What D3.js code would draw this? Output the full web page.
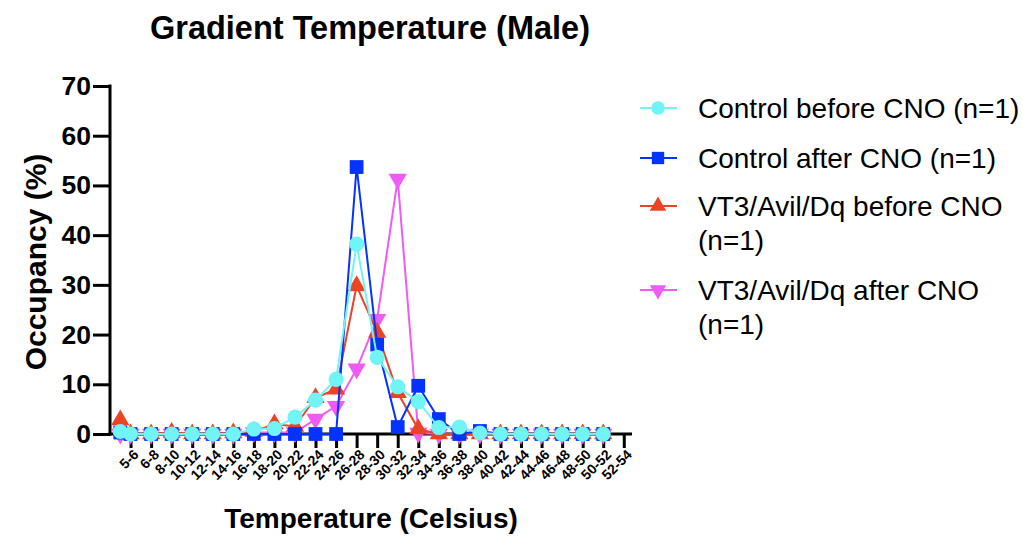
<!DOCTYPE html>
<html>
<head>
<meta charset="utf-8">
<script src="https://cdn.jsdelivr.net/npm/d3@7"></script>
<style>
  html, body { margin: 0; padding: 0; background: #fff; }
  svg { display: block; font-family: "Liberation Sans", Arial, Helvetica, sans-serif; }
</style>
</head>
<body>
<svg id="chart" width="1023" height="536"></svg>
<script>
// Temperature bins (tick labels along the x axis)
const binLabels = ["5-6","6-8","8-10","10-12","12-14","14-16","16-18","18-20","20-22","22-24",
  "24-26","26-28","28-30","30-32","32-34","34-36","36-38","38-40","40-42","42-44",
  "44-46","46-48","48-50","50-52","52-54"];

// Occupancy (%) per point; the first value sits half a bin before the first tick
const controlBefore = [0.5, 0, 0, 0, 0, 0, 0, 1.0, 1.1, 3.4, 6.8, 11.0, 38.2, 15.4, 9.5, 6.5, 1.3, 1.4, 0.2, 0, 0, 0, 0, 0, 0];
const controlAfter  = [0.3, 0, 0, 0, 0, 0, 0, 0, 0, 0, 0, 0, 53.7, 18.0, 1.4, 9.7, 3.0, 0, 0.6, 0, 0, 0, 0, 0, 0];
const vt3Before     = [2.8, 0, 0, 0.3, 0, 0, 0.2, 0.5, 2.0, 1.5, 7.3, 9.0, 29.8, 20.4, 8.3, 1.0, 0, 0, 0, 0, 0, 0, 0, 0, 0];
const vt3After      = [0, 0, 0, 0, 0, 0, 0, 0.3, 0.3, 0.3, 3.0, 5.6, 13.1, 23.1, 51.3, 0.2, 0, 0, 0, 0, 0, 0, 0, 0, 0];

const yTicks = [0, 10, 20, 30, 40, 50, 60, 70];

const seriesNames = ["Control before CNO (n=1)", "Control after CNO (n=1)",
  "VT3/Avil/Dq before CNO (n=1)", "VT3/Avil/Dq after CNO (n=1)"];

const series = [
  { name: seriesNames[0], values: controlBefore, color: "#70F4F6", symbol: d3.symbolCircle,   size: 180, rotate: 0 },
  { name: seriesNames[1], values: controlAfter,  color: "#0432FF", symbol: d3.symbolSquare,   size: 190, rotate: 0 },
  { name: seriesNames[2], values: vt3Before,     color: "#EC4325", symbol: d3.symbolTriangle, size: 145, rotate: 0 },
  { name: seriesNames[3], values: vt3After,      color: "#EF5BF4", symbol: d3.symbolTriangle, size: 145, rotate: 180 }
];

const svg = d3.select("#chart");

// Position of each point along the bin index axis: lead point at -0.5, then one per tick
const pointIndex = i => i === 0 ? -0.5 : i - 1;

const x = d3.scaleLinear().domain([-1, 24.4]).range([110, 632]);
const y = d3.scaleLinear().domain([0, 70]).range([434, 86]);

// Title
svg.append("text")
  .attr("x", 370).attr("y", 39)
  .attr("text-anchor", "middle")
  .attr("font-size", 32.5).attr("font-weight", "bold")
  .text("Gradient Temperature (Male)");

// Y axis
const yAxis = svg.append("g")
  .attr("transform", `translate(${x(-1)},0)`)
  .call(d3.axisLeft(y).tickValues(yTicks).tickSize(17).tickPadding(2));
yAxis.select(".domain").attr("stroke", "#000").attr("stroke-width", 3)
  .attr("d", `M0,${y(70) - 1.5}V${y(0) + 1.5}`);
yAxis.selectAll(".tick line").attr("stroke", "#000").attr("stroke-width", 3);
yAxis.selectAll(".tick text").attr("font-size", 26.5).attr("font-weight", "bold")
  .attr("font-family", "Liberation Sans, Arial, sans-serif").attr("fill", "#000");

// X axis
const xAxis = svg.append("g")
  .attr("transform", `translate(0,${y(0)})`)
  .call(d3.axisBottom(x).tickValues(d3.range(binLabels.length))
    .tickFormat(i => binLabels[i]).tickSize(14));
xAxis.select(".domain").attr("stroke", "#000").attr("stroke-width", 3)
  .attr("d", `M${x(-1) - 1.5},0H${x(24.4)}`);
xAxis.selectAll(".tick line").attr("stroke", "#000").attr("stroke-width", 3);
xAxis.selectAll(".tick text")
  .attr("font-size", 14).attr("font-weight", "bold")
  .attr("font-family", "Liberation Sans, Arial, sans-serif").attr("fill", "#000")
  .attr("text-anchor", "end")
  .attr("transform", "translate(5,18) rotate(-45)")
  .attr("x", 0).attr("y", 0).attr("dy", "0.35em");

// Axis titles
svg.append("text")
  .attr("x", 371).attr("y", 528)
  .attr("text-anchor", "middle")
  .attr("font-size", 28).attr("font-weight", "bold")
  .text("Temperature (Celsius)");

svg.append("text")
  .attr("transform", "translate(46,262) rotate(-90)")
  .attr("text-anchor", "middle")
  .attr("font-size", 30).attr("font-weight", "bold")
  .text("Occupancy (%)");

// Lines and markers, last series underneath
const line = d3.line()
  .x((d, i) => x(pointIndex(i)))
  .y(d => y(d));

const plot = svg.append("g");
series.slice().reverse().forEach(s => {
  const g = plot.append("g");
  g.append("path")
    .attr("d", line(s.values))
    .attr("fill", "none")
    .attr("stroke", s.color)
    .attr("stroke-width", 2);
  g.selectAll("path.marker")
    .data(s.values)
    .join("path")
    .attr("class", "marker")
    .attr("d", d3.symbol().type(s.symbol).size(s.size))
    .attr("transform", (d, i) => `translate(${x(pointIndex(i))},${y(d)}) rotate(${s.rotate})`)
    .attr("fill", s.color);
});

// Legend
const legendRows = [
  { lines: ["Control before CNO (n=1)"], y: 108 },
  { lines: ["Control after CNO (n=1)"], y: 158 },
  { lines: ["VT3/Avil/Dq before CNO", "(n=1)"], y: 206 },
  { lines: ["VT3/Avil/Dq after CNO", "(n=1)"], y: 290 }
];
const legend = svg.append("g");
series.forEach((s, i) => {
  const row = legendRows[i];
  const g = legend.append("g").attr("transform", `translate(0,${row.y})`);
  g.append("line").attr("x1", 640).attr("x2", 677).attr("y1", 0).attr("y2", 0)
    .attr("stroke", s.color).attr("stroke-width", 2);
  g.append("path")
    .attr("d", d3.symbol().type(s.symbol).size(s.size * 0.8))
    .attr("transform", `translate(658,0) rotate(${s.rotate})`)
    .attr("fill", s.color);
  const t = g.append("text").attr("x", 698).attr("y", 10)
    .attr("font-size", 28).attr("fill", "#000");
  row.lines.forEach((ln, k) => {
    t.append("tspan").attr("x", 698).attr("dy", k === 0 ? 0 : 34).text(ln);
  });
});
</script>
</body>
</html>
